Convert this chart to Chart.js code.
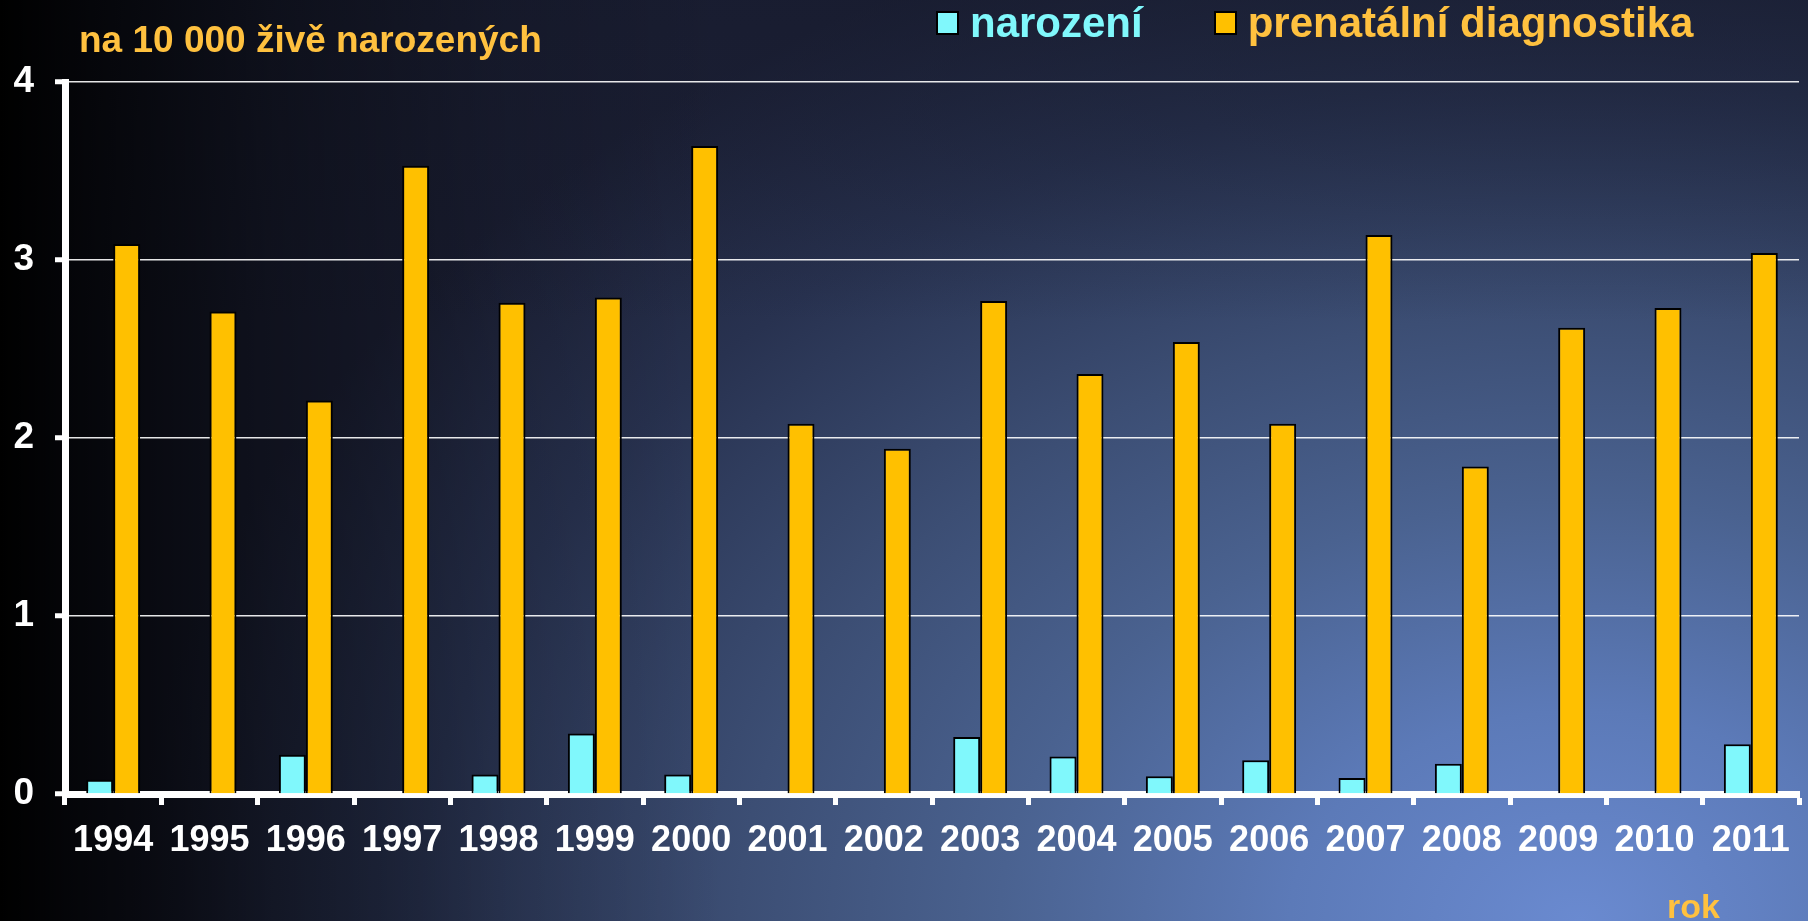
<!DOCTYPE html>
<html>
<head>
<meta charset="utf-8">
<script src="https://cdn.jsdelivr.net/npm/chart.js@4.4.1/dist/chart.umd.min.js"></script>
<style>
  html, body { margin: 0; padding: 0; }
  body { width: 1808px; height: 921px; overflow: hidden; font-family: 'Liberation Sans', Arial, sans-serif; }
  #wrap {
    position: relative; width: 1808px; height: 921px;
    background:
      linear-gradient(to right, #000 0%, rgba(0,0,0,.8) 5%, rgba(0,0,0,.45) 15%, rgba(0,0,0,.15) 28%, rgba(0,0,0,0) 40%),
      linear-gradient(to bottom, rgba(22,26,44,.55) 0%, rgba(22,26,44,0) 35%),
      radial-gradient(1450px 1050px at 1580px 921px, #6a8ad0 0%, #5c7ab8 20%, #4a6290 40%, #3c4e74 58%, #283250 80%, #1c2036 100%);
  }
  canvas { position: absolute; left: 0; top: 0; }
  .txt { position: absolute; font-weight: bold; line-height: 1; white-space: nowrap; color: #ffc13f; }
  #unit { left: 79px; top: 21px; font-size: 37px; }
  #rok { left: 1667px; top: 889px; font-size: 34px; }
  #legend { position: absolute; top: 2px; left: 936px; display: flex; align-items: center; font-weight: bold; font-size: 42px; line-height: 1; }
  #legend .item { display: flex; align-items: center; white-space: nowrap; }
  #legend .box { width: 19px; height: 20px; border: 2px solid #000; margin-right: 11px; }
</style>
</head>
<body>
<div id="wrap">
  <canvas id="chart" width="1808" height="921"></canvas>
  <div class="txt" id="unit">na 10 000 živě narozených</div>
  <div id="legend"></div>
  <div class="txt" id="rok">rok</div>
</div>
<script>
const years = ['1994','1995','1996','1997','1998','1999','2000','2001','2002','2003','2004','2005','2006','2007','2008','2009','2010','2011'];
const narozeni = [0.08, 0, 0.22, 0, 0.11, 0.34, 0.11, 0, 0, 0.32, 0.21, 0.10, 0.19, 0.09, 0.17, 0, 0, 0.28];
const prenatalni = [3.09, 2.71, 2.21, 3.53, 2.76, 2.79, 3.64, 2.08, 1.94, 2.77, 2.36, 2.54, 2.08, 3.14, 1.84, 2.62, 2.73, 3.04];
const yTicks = [0, 1, 2, 3, 4];

const CYAN = '#80f8fc';
const ORANGE = '#ffc000';
const FONT = "'Liberation Sans', Arial, sans-serif";

const chart = new Chart(document.getElementById('chart'), {
  type: 'bar',
  data: {
    labels: years,
    datasets: [
      {label: 'narození', data: narozeni, backgroundColor: CYAN, borderColor: '#000', borderWidth: 2, textColor: '#80f8fc'},
      {label: 'prenatální diagnostika', data: prenatalni, backgroundColor: ORANGE, borderColor: '#000', borderWidth: 2, textColor: '#ffc13f'}
    ]
  },
  options: {
    responsive: false,
    animation: false,
    devicePixelRatio: 1,
    layout: {padding: {top: 82, right: 9, left: 0, bottom: 0}},
    datasets: {bar: {categoryPercentage: 0.56, barPercentage: 1.0}},
    plugins: {legend: {display: false}, title: {display: false}, tooltip: {enabled: false}},
    scales: {
      x: {
        z: 1,
        border: {color: '#fff', width: 7},
        grid: {drawOnChartArea: false, drawTicks: true, tickLength: 11, tickWidth: 5, tickColor: '#fff', offset: true},
        ticks: {color: '#fff', font: {family: FONT, size: 36, weight: 'bold'}, padding: 14, maxRotation: 0, autoSkip: false},
        afterFit: s => { s.height = 127; }
      },
      y: {
        min: 0, max: 4,
        afterBuildTicks: s => { s.ticks = yTicks.map(v => ({value: v})); },
        border: {color: '#fff', width: 7},
        grid: {color: 'rgba(255,255,255,0.9)', lineWidth: 1.5, tickLength: 10, tickWidth: 5, tickColor: '#fff'},
        ticks: {color: '#fff', font: {family: FONT, size: 37, weight: 'bold'}, padding: 21},
        afterFit: s => { s.width = 65; }
      }
    }
  }
});

// legend from the datasets
const legendEl = document.getElementById('legend');
chart.data.datasets.forEach((ds, i) => {
  const it = document.createElement('div');
  it.className = 'item';
  if (i > 0) it.style.marginLeft = '71px';
  it.innerHTML = `<span class="box" style="background:${ds.backgroundColor}"></span><span style="color:${ds.textColor}">${ds.label}</span>`;
  legendEl.appendChild(it);
});
</script>
</body>
</html>
